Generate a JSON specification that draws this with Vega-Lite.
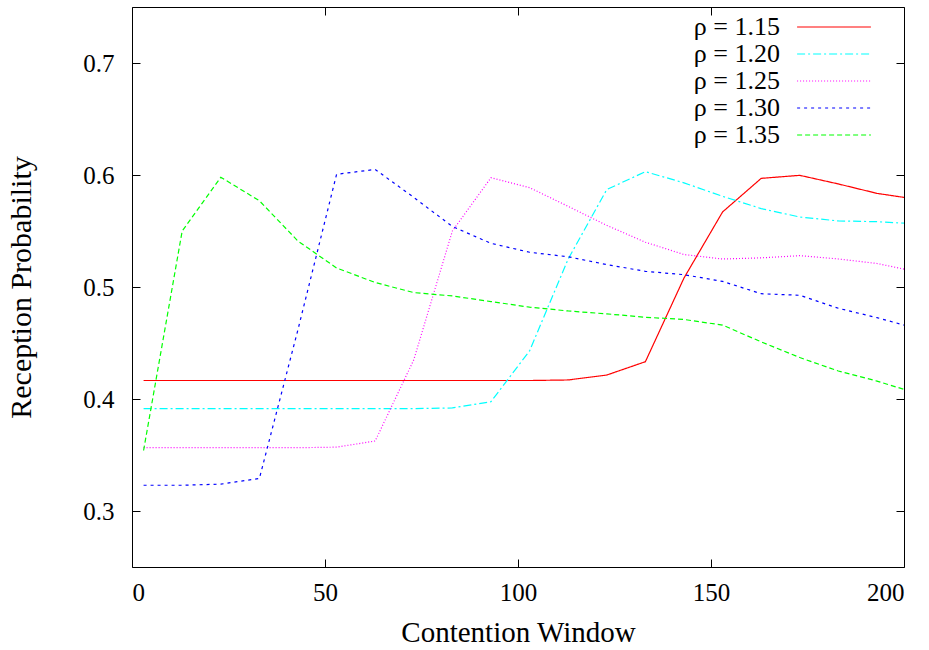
{
  "$schema": "https://vega.github.io/schema/vega-lite/v6.json",
  "width": 772,
  "height": 560,
  "autosize": "none",
  "padding": {"left": 132, "top": 7, "right": 25, "bottom": 83},
  "background": "white",
  "config": {
    "view": {"stroke": "black", "strokeWidth": 1},
    "font": "Liberation Serif"
  },
  "data": {
    "values": [
      {"r": "ρ = 1.15", "x": 3, "y": 0.4165}, {"r": "ρ = 1.15", "x": 13, "y": 0.4165}, {"r": "ρ = 1.15", "x": 23, "y": 0.4165}, {"r": "ρ = 1.15", "x": 33, "y": 0.4165}, {"r": "ρ = 1.15", "x": 43, "y": 0.4165}, {"r": "ρ = 1.15", "x": 53, "y": 0.4165}, {"r": "ρ = 1.15", "x": 63, "y": 0.4165}, {"r": "ρ = 1.15", "x": 73, "y": 0.4165}, {"r": "ρ = 1.15", "x": 83, "y": 0.4165}, {"r": "ρ = 1.15", "x": 93, "y": 0.4165}, {"r": "ρ = 1.15", "x": 103, "y": 0.4165}, {"r": "ρ = 1.15", "x": 113, "y": 0.417}, {"r": "ρ = 1.15", "x": 123, "y": 0.4214}, {"r": "ρ = 1.15", "x": 133, "y": 0.4333}, {"r": "ρ = 1.15", "x": 143, "y": 0.508}, {"r": "ρ = 1.15", "x": 153, "y": 0.567}, {"r": "ρ = 1.15", "x": 163, "y": 0.597}, {"r": "ρ = 1.15", "x": 173, "y": 0.5997}, {"r": "ρ = 1.15", "x": 183, "y": 0.592}, {"r": "ρ = 1.15", "x": 193, "y": 0.5836}, {"r": "ρ = 1.15", "x": 200, "y": 0.58},
      {"r": "ρ = 1.20", "x": 3, "y": 0.3914}, {"r": "ρ = 1.20", "x": 13, "y": 0.3914}, {"r": "ρ = 1.20", "x": 23, "y": 0.3914}, {"r": "ρ = 1.20", "x": 33, "y": 0.3914}, {"r": "ρ = 1.20", "x": 43, "y": 0.3914}, {"r": "ρ = 1.20", "x": 53, "y": 0.3914}, {"r": "ρ = 1.20", "x": 63, "y": 0.3914}, {"r": "ρ = 1.20", "x": 73, "y": 0.3914}, {"r": "ρ = 1.20", "x": 83, "y": 0.392}, {"r": "ρ = 1.20", "x": 93, "y": 0.3976}, {"r": "ρ = 1.20", "x": 103, "y": 0.443}, {"r": "ρ = 1.20", "x": 113, "y": 0.525}, {"r": "ρ = 1.20", "x": 123, "y": 0.587}, {"r": "ρ = 1.20", "x": 133, "y": 0.603}, {"r": "ρ = 1.20", "x": 143, "y": 0.593}, {"r": "ρ = 1.20", "x": 153, "y": 0.581}, {"r": "ρ = 1.20", "x": 163, "y": 0.57}, {"r": "ρ = 1.20", "x": 173, "y": 0.5625}, {"r": "ρ = 1.20", "x": 183, "y": 0.559}, {"r": "ρ = 1.20", "x": 193, "y": 0.5583}, {"r": "ρ = 1.20", "x": 200, "y": 0.557},
      {"r": "ρ = 1.25", "x": 3, "y": 0.3565}, {"r": "ρ = 1.25", "x": 13, "y": 0.3565}, {"r": "ρ = 1.25", "x": 23, "y": 0.3565}, {"r": "ρ = 1.25", "x": 33, "y": 0.3565}, {"r": "ρ = 1.25", "x": 43, "y": 0.3565}, {"r": "ρ = 1.25", "x": 53, "y": 0.357}, {"r": "ρ = 1.25", "x": 63, "y": 0.3625}, {"r": "ρ = 1.25", "x": 73, "y": 0.435}, {"r": "ρ = 1.25", "x": 83, "y": 0.55}, {"r": "ρ = 1.25", "x": 93, "y": 0.5976}, {"r": "ρ = 1.25", "x": 103, "y": 0.5887}, {"r": "ρ = 1.25", "x": 113, "y": 0.572}, {"r": "ρ = 1.25", "x": 123, "y": 0.555}, {"r": "ρ = 1.25", "x": 133, "y": 0.54}, {"r": "ρ = 1.25", "x": 143, "y": 0.529}, {"r": "ρ = 1.25", "x": 153, "y": 0.525}, {"r": "ρ = 1.25", "x": 163, "y": 0.526}, {"r": "ρ = 1.25", "x": 173, "y": 0.528}, {"r": "ρ = 1.25", "x": 183, "y": 0.525}, {"r": "ρ = 1.25", "x": 193, "y": 0.521}, {"r": "ρ = 1.25", "x": 200, "y": 0.516},
      {"r": "ρ = 1.30", "x": 3, "y": 0.323}, {"r": "ρ = 1.30", "x": 13, "y": 0.323}, {"r": "ρ = 1.30", "x": 23, "y": 0.324}, {"r": "ρ = 1.30", "x": 33, "y": 0.329}, {"r": "ρ = 1.30", "x": 43, "y": 0.462}, {"r": "ρ = 1.30", "x": 53, "y": 0.6006}, {"r": "ρ = 1.30", "x": 63, "y": 0.605}, {"r": "ρ = 1.30", "x": 73, "y": 0.58}, {"r": "ρ = 1.30", "x": 83, "y": 0.554}, {"r": "ρ = 1.30", "x": 93, "y": 0.539}, {"r": "ρ = 1.30", "x": 103, "y": 0.531}, {"r": "ρ = 1.30", "x": 113, "y": 0.527}, {"r": "ρ = 1.30", "x": 123, "y": 0.52}, {"r": "ρ = 1.30", "x": 133, "y": 0.514}, {"r": "ρ = 1.30", "x": 143, "y": 0.511}, {"r": "ρ = 1.30", "x": 153, "y": 0.505}, {"r": "ρ = 1.30", "x": 163, "y": 0.494}, {"r": "ρ = 1.30", "x": 173, "y": 0.4926}, {"r": "ρ = 1.30", "x": 183, "y": 0.481}, {"r": "ρ = 1.30", "x": 193, "y": 0.4726}, {"r": "ρ = 1.30", "x": 200, "y": 0.466},
      {"r": "ρ = 1.35", "x": 3, "y": 0.354}, {"r": "ρ = 1.35", "x": 13, "y": 0.55}, {"r": "ρ = 1.35", "x": 23, "y": 0.598}, {"r": "ρ = 1.35", "x": 33, "y": 0.577}, {"r": "ρ = 1.35", "x": 43, "y": 0.541}, {"r": "ρ = 1.35", "x": 53, "y": 0.517}, {"r": "ρ = 1.35", "x": 63, "y": 0.504}, {"r": "ρ = 1.35", "x": 73, "y": 0.495}, {"r": "ρ = 1.35", "x": 83, "y": 0.492}, {"r": "ρ = 1.35", "x": 93, "y": 0.487}, {"r": "ρ = 1.35", "x": 103, "y": 0.482}, {"r": "ρ = 1.35", "x": 113, "y": 0.4786}, {"r": "ρ = 1.35", "x": 123, "y": 0.476}, {"r": "ρ = 1.35", "x": 133, "y": 0.473}, {"r": "ρ = 1.35", "x": 143, "y": 0.471}, {"r": "ρ = 1.35", "x": 153, "y": 0.466}, {"r": "ρ = 1.35", "x": 163, "y": 0.451}, {"r": "ρ = 1.35", "x": 173, "y": 0.437}, {"r": "ρ = 1.35", "x": 183, "y": 0.425}, {"r": "ρ = 1.35", "x": 193, "y": 0.416}, {"r": "ρ = 1.35", "x": 200, "y": 0.4086}
    ]
  },
  "layer": [
    {
      "mark": {"type": "line", "strokeWidth": 1.2, "clip": true},
      "encoding": {
        "x": {
          "field": "x", "type": "quantitative",
          "scale": {"domain": [0, 200], "nice": false, "zero": false},
          "axis": {
            "orient": "bottom", "values": [0, 50, 100, 150, 200], "grid": false, "domain": false,
            "tickSize": -8, "tickColor": "black", "tickWidth": 1,
            "labelPadding": 21, "labelFont": "Liberation Serif", "labelFontSize": 25, "labelColor": "black",
            "title": "Contention Window", "titleFont": "Liberation Serif", "titleFontSize": 29,
            "titleFontWeight": "normal", "titleColor": "black", "titlePadding": 13
          }
        },
        "y": {
          "field": "y", "type": "quantitative",
          "scale": {"domain": [0.25, 0.75], "nice": false, "zero": false},
          "axis": {
            "orient": "left", "values": [0.3, 0.4, 0.5, 0.6, 0.7], "format": ".1f", "grid": false, "domain": false,
            "tickSize": -8, "tickColor": "black", "tickWidth": 1,
            "labelPadding": 26, "labelFont": "Liberation Serif", "labelFontSize": 25, "labelColor": "black",
            "title": "Reception Probability", "titleFont": "Liberation Serif", "titleFontSize": 30,
            "titleFontWeight": "normal", "titleColor": "black", "titlePadding": 46
          }
        },
        "color": {
          "field": "r", "type": "nominal",
          "scale": {
            "domain": ["ρ = 1.15", "ρ = 1.20", "ρ = 1.25", "ρ = 1.30", "ρ = 1.35"],
            "range": ["#ff0000", "#00ffff", "#ff00ff", "#0000ff", "#00ff00"]
          },
          "legend": {
            "title": null, "orient": "none", "legendX": 689, "legendY": 7, "padding": 0,
            "symbolType": "M-8.2,0H8.2", "symbolSize": 81, "symbolStrokeWidth": 1.2,
            "labelAlign": "right", "labelOffset": -67, "labelFont": "Liberation Serif",
            "labelFontSize": 26, "labelColor": "black", "rowPadding": 1
          }
        },
        "strokeDash": {
          "field": "r", "type": "nominal",
          "scale": {
            "domain": ["ρ = 1.15", "ρ = 1.20", "ρ = 1.25", "ρ = 1.30", "ρ = 1.35"],
            "range": [[1, 0], [8, 3, 2, 3], [1, 2], [3, 4], [5, 3]]
          },
          "legend": {
            "title": null, "orient": "none", "legendX": 689, "legendY": 7, "padding": 0,
            "symbolType": "M-8.2,0H8.2", "symbolSize": 81, "symbolStrokeWidth": 1.2,
            "labelAlign": "right", "labelOffset": -67, "labelFont": "Liberation Serif",
            "labelFontSize": 26, "labelColor": "black", "rowPadding": 1
          }
        }
      }
    },
    {
      "mark": {"type": "point", "opacity": 0},
      "encoding": {
        "x": {
          "field": "x", "type": "quantitative",
          "axis": {
            "orient": "top", "values": [0, 50, 100, 150, 200], "grid": false, "domain": false,
            "labels": false, "tickSize": -8, "tickColor": "black", "title": null
          }
        },
        "y": {
          "field": "y", "type": "quantitative",
          "axis": {
            "orient": "right", "values": [0.3, 0.4, 0.5, 0.6, 0.7], "grid": false, "domain": false,
            "labels": false, "tickSize": -8, "tickColor": "black", "title": null
          }
        }
      }
    }
  ],
  "resolve": {"axis": {"x": "independent", "y": "independent"}}
}
